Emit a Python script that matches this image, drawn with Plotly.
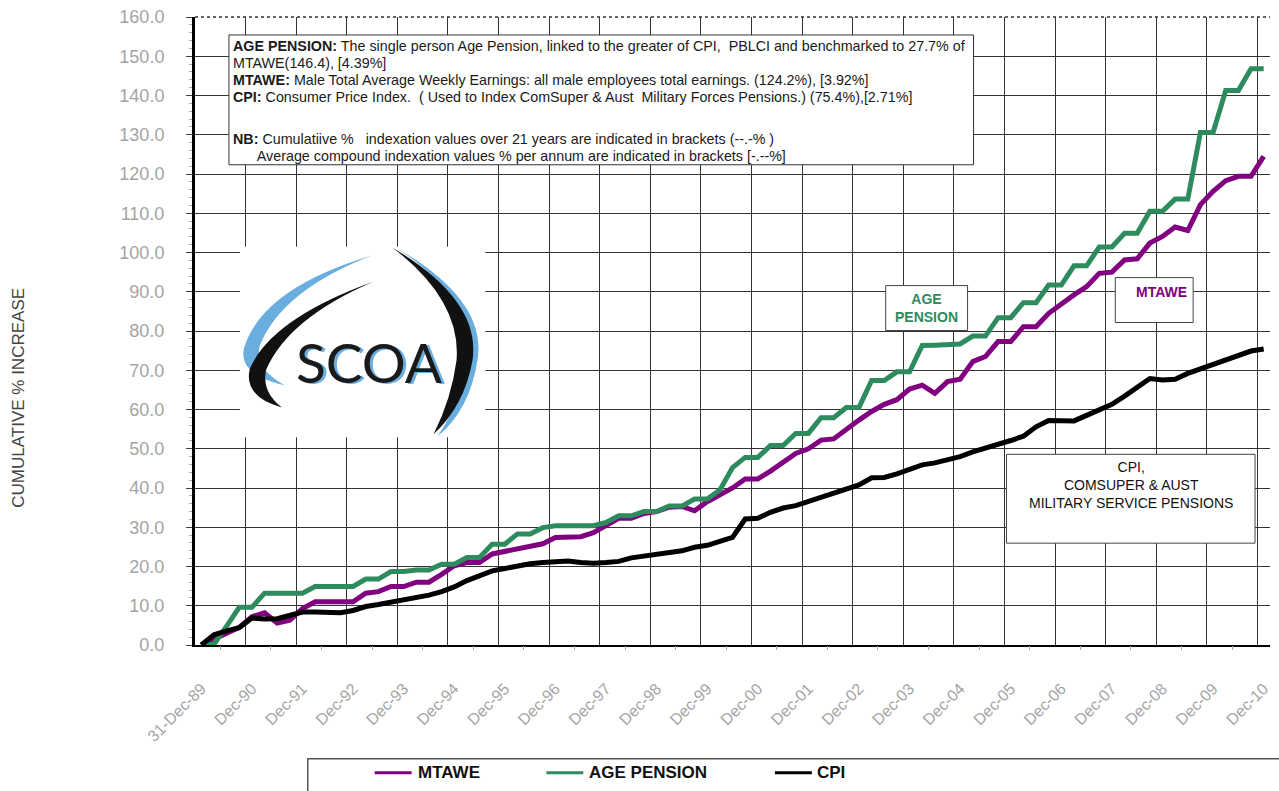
import plotly.graph_objects as go
import pandas as pd

# ---------------- data ----------------
quarters = [p.strftime("%b-%y") for p in pd.period_range("1989Q4", "2010Q4", freq="Q")]

mtawe = [0, 1.4, 2.9, 4.5, 7.2, 8.2, 5.6, 6.3, 9.3, 11.0,
         11.0, 11.0, 11.0, 13.2, 13.6, 14.9, 14.9, 16.0, 16.0, 18.0,
         20.2, 21.0, 21.0, 23.2, 23.8, 24.6, 25.0, 25.8, 27.4, 27.4,
         27.6, 28.6, 30.6, 32.3, 32.3, 33.5, 34.0, 35.1, 35.3, 34.2,
         36.5, 38.3, 40.0, 42.3, 42.3, 44.3, 46.4, 48.8, 50.0, 52.2,
         52.5, 55.0, 57.3, 59.5, 61.3, 62.5, 65.2, 66.2, 64.1, 67.1,
         67.7, 72.2, 73.5, 77.3, 77.3, 81.1, 81.1, 84.5, 86.9, 89.2,
         91.3, 94.7, 95.0, 98.1, 98.4, 102.4, 104.1, 106.5, 105.6, 112.2,
         115.6, 118.3, 119.4, 119.4, 124.5]

age_pension = [0, 0.2, 4.8, 9.6, 9.6, 13.2, 13.2, 13.2, 13.2, 14.9,
               14.9, 14.9, 14.9, 16.8, 16.8, 18.7, 18.7, 19.1, 19.1, 20.6,
               20.6, 22.3, 22.3, 25.7, 25.7, 28.3, 28.3, 29.9, 30.4, 30.4,
               30.4, 30.4, 31.2, 32.9, 32.9, 34.0, 34.0, 35.4, 35.4, 37.2,
               37.2, 39.5, 45.2, 47.8, 47.8, 50.8, 50.8, 53.9, 53.9, 57.9,
               57.9, 60.5, 60.5, 67.4, 67.4, 69.6, 69.6, 76.3, 76.4, 76.5,
               76.7, 78.7, 78.7, 83.4, 83.4, 87.2, 87.2, 91.7, 91.7, 96.6,
               96.6, 101.4, 101.4, 104.9, 104.9, 110.5, 110.5, 113.6, 113.6, 130.6,
               130.6, 141.3, 141.3, 146.8, 146.8]

cpi = [0, 2.6, 3.6, 4.4, 6.9, 6.6, 6.7, 7.5, 8.4, 8.4,
       8.2, 8.2, 8.8, 9.8, 10.3, 10.9, 11.3, 12.0, 12.7, 13.6,
       14.8, 16.4, 17.6, 18.9, 19.5, 20.2, 20.7, 21.0, 21.3, 21.4,
       21.0, 20.8, 21.0, 21.3, 22.2, 22.7, 23.0, 23.4, 24.0, 24.9,
       25.4, 26.4, 27.4, 32.1, 32.3, 33.8, 34.9, 35.5, 36.5, 37.6,
       38.7, 39.6, 40.8, 42.6, 42.7, 43.6, 44.8, 45.9, 46.4, 47.1,
       48.0, 49.2, 50.1, 51.3, 52.1, 53.2, 55.6, 57.2, 57.2, 57.1,
       58.5, 59.8, 61.3, 63.4, 65.6, 67.9, 67.5, 67.7, 69.2, 70.4,
       71.3, 72.6, 73.7, 74.9, 75.4]

tick_labels = ["31-Dec-89", "Dec-90", "Dec-91", "Dec-92", "Dec-93", "Dec-94",
               "Dec-95", "Dec-96", "Dec-97", "Dec-98", "Dec-99", "Dec-00",
               "Dec-01", "Dec-02", "Dec-03", "Dec-04", "Dec-05", "Dec-06",
               "Dec-07", "Dec-08", "Dec-09", "Dec-10"]

series_names = ["MTAWE", "AGE PENSION", "CPI"]
series_colors = ["#800080", "#2e8b5e", "#000000"]

# ---------------- geometry helpers (pixels -> paper) ----------------
W, H = 1279, 791
L, R, T, B = 195, 7, 16, 146
PW, PH = W - L - R, H - T - B


def px(x):
    return (x - L) / PW


def py(y):
    return (H - B - y) / PH


def path(points):
    out = []
    for cmd, coords in points:
        if cmd == "Z":
            out.append("Z")
            continue
        pts = []
        for i in range(0, len(coords), 2):
            pts.append(f"{px(coords[i]):.5f},{py(coords[i + 1]):.5f}")
        out.append(cmd + " " + " ".join(pts))
    return " ".join(out)


xpos = list(range(len(quarters)))
n = len(quarters)
year_bounds = [i - 0.5 for i in range(4, n, 4)]
half_year = [i + 1.5 for i in range(0, n - 1, 4)]
label_pos = list(range(0, n, 4))

fig = go.Figure()
for name, vals, col in zip(series_names, [mtawe, age_pension, cpi], series_colors):
    fig.add_trace(go.Scatter(x=xpos, y=vals, mode="lines", name=name,
                             line=dict(color=col, width=5), text=quarters,
                             hovertemplate="%{text}: %{y:.1f}%<extra>" + name + "</extra>",
                             showlegend=False))

# invisible trace to carry the half-year tick axis
fig.add_trace(go.Scatter(x=[0], y=[0], xaxis="x2", mode="markers",
                         marker=dict(opacity=0), showlegend=False, hoverinfo="skip"))

tickfont = dict(family="Liberation Sans, Arial, sans-serif", color="#a4a4a4")

fig.update_layout(
    width=W, height=H,
    margin=dict(l=L, r=R, t=T, b=B),
    paper_bgcolor="white", plot_bgcolor="white",
    xaxis=dict(range=[-0.5, n - 0.5], tickmode="array", tickvals=label_pos,
               ticktext=tick_labels, tickangle=-45, showgrid=False, ticks="",
               showline=True, linecolor="black", linewidth=2, zeroline=False,
               tickfont=dict(size=16, **tickfont), ticklabelstandoff=26,
               minor=dict(tickmode="array", tickvals=year_bounds, showgrid=True,
                          gridcolor="#333333", gridwidth=1.4, ticks="")),
    xaxis2=dict(range=[-0.5, n - 0.5], overlaying="x", anchor="y", side="bottom",
                tickmode="array", tickvals=half_year, ticks="outside", ticklen=4,
                tickcolor="#aaaaaa", showticklabels=False, showgrid=False,
                zeroline=False, showline=False),
    yaxis=dict(range=[0, 160], tickmode="linear", tick0=0, dtick=10,
               tickformat=".1f", showgrid=True, gridcolor="#333333", gridwidth=1.4,
               zeroline=False, showline=True, linecolor="black", linewidth=3,
               ticks="outside", ticklen=6, tickcolor="#444444",
               tickfont=dict(size=18, **tickfont), ticklabelstandoff=18,
               minor=dict(dtick=2, ticks="outside", ticklen=3, tickcolor="#aaaaaa",
                          showgrid=False)),
    hovermode="closest",
)

shapes = []
annos = []

# top border of plot (dotted)
shapes.append(dict(type="line", xref="paper", yref="paper", x0=0, x1=1, y0=1, y1=1,
                   line=dict(color="#333333", width=1.5, dash="dot")))

# ---------- description box ----------
shapes.append(dict(type="rect", xref="paper", yref="paper",
                   x0=px(229), x1=px(975), y0=py(164), y1=py(34),
                   fillcolor="white", line=dict(color="#333333", width=1)))
body_font = "Liberation Sans, Arial, sans-serif"
desc_lines = [
    (45, "<b>AGE PENSION:</b> The single person Age Pension, linked to the greater of CPI,  PBLCI and benchmarked to 27.7% of"),
    (62, "MTAWE(146.4), [4.39%]"),
    (79, "<b>MTAWE:</b> Male Total Average Weekly Earnings: all male employees total earnings. (124.2%), [3.92%]"),
    (96, "<b>CPI:</b> Consumer Price Index.  ( Used to Index ComSuper &amp; Aust  Military Forces Pensions.) (75.4%),[2.71%]"),
    (138, "<b>NB:</b> Cumulatiive %   indexation values over 21 years are indicated in brackets (--.-% )"),
    (155, "\u00a0\u00a0\u00a0\u00a0\u00a0\u00a0Average compound indexation values % per annum are indicated in brackets [-.--%]"),
]
for yy, txt in desc_lines:
    annos.append(dict(xref="paper", yref="paper", x=px(231), y=py(yy), xanchor="left",
                      yanchor="middle", text=txt, showarrow=False,
                      font=dict(family=body_font, size=14.3, color="#1a1a1a")))

# ---------- SCOA logo (drawn) ----------
shapes.append(dict(type="rect", xref="paper", yref="paper",
                   x0=px(240), x1=px(486), y0=py(437), y1=py(246),
                   fillcolor="white", line=dict(width=0)))
blue = "#6aaee0"
shapes.append(dict(type="path", xref="paper", yref="paper", fillcolor=blue, line=dict(width=0),
                   path=path([("M", [372, 255]), ("Q", [262, 288, 244, 348]),
                              ("Q", [238, 374, 285, 385]), ("Q", [254, 368, 260, 345]),
                              ("Q", [282, 290, 372, 255]), ("Z", [])])))
shapes.append(dict(type="path", xref="paper", yref="paper", fillcolor="#111111", line=dict(width=0),
                   path=path([("M", [374, 281]), ("Q", [272, 318, 250, 368]),
                              ("Q", [243, 396, 282, 407]), ("Q", [262, 392, 266, 370]),
                              ("Q", [288, 318, 374, 281]), ("Z", [])])))
shapes.append(dict(type="path", xref="paper", yref="paper", fillcolor=blue, line=dict(width=0),
                   path=path([("M", [398, 248]), ("Q", [488, 300, 478, 360]),
                              ("Q", [470, 410, 438, 436]), ("Q", [462, 400, 468, 360]),
                              ("Q", [476, 300, 398, 248]), ("Z", [])])))
shapes.append(dict(type="path", xref="paper", yref="paper", fillcolor="#111111", line=dict(width=0),
                   path=path([("M", [393, 247]), ("Q", [482, 300, 473, 360]),
                              ("Q", [465, 405, 434, 434]), ("Q", [452, 398, 457, 360]),
                              ("Q", [462, 300, 393, 247]), ("Z", [])])))
annos.append(dict(xref="paper", yref="paper", x=px(370), y=py(362), xanchor="center",
                  yanchor="middle", text="SCOA", showarrow=False,
                  font=dict(family="Lato, Open Sans, sans-serif", size=55, color="#1a1a1a",
                            shadow="3px 1px 0px " + blue)))

# ---------- series label boxes ----------
shapes.append(dict(type="rect", xref="paper", yref="paper",
                   x0=px(887), x1=px(969), y0=py(330), y1=py(285),
                   fillcolor="white", line=dict(color="#444444", width=1)))
annos.append(dict(xref="paper", yref="paper", x=px(928), y=py(307), xanchor="center",
                  yanchor="middle", text="AGE<br>PENSION", showarrow=False,
                  font=dict(family="Liberation Sans, Arial", size=14, color=series_colors[1],
                            weight="bold")))
shapes.append(dict(type="rect", xref="paper", yref="paper",
                   x0=px(1117), x1=px(1195), y0=py(322), y1=py(277),
                   fillcolor="white", line=dict(color="#444444", width=1)))
annos.append(dict(xref="paper", yref="paper", x=px(1163), y=py(291), xanchor="center",
                  yanchor="middle", text="MTAWE", showarrow=False,
                  font=dict(family="Liberation Sans, Arial", size=14, color=series_colors[0],
                            weight="bold")))
shapes.append(dict(type="rect", xref="paper", yref="paper",
                   x0=px(1008), x1=px(1257), y0=py(543), y1=py(454),
                   fillcolor="white", line=dict(color="#444444", width=1)))
annos.append(dict(xref="paper", yref="paper", x=px(1133), y=py(485), xanchor="center",
                  yanchor="middle", text="CPI,<br>COMSUPER &amp; AUST<br>MILITARY SERVICE PENSIONS",
                  showarrow=False,
                  font=dict(family="Liberation Sans, Arial", size=14, color="#111111")))

# ---------- y axis title ----------
annos.append(dict(xref="paper", yref="paper", x=px(18), y=py(397), xanchor="center",
                  yanchor="middle", text="CUMULATIVE % INCREASE", textangle=-90,
                  showarrow=False,
                  font=dict(family="Liberation Sans, Arial", size=17, color="#444444")))

# ---------- legend (drawn below chart) ----------
shapes.append(dict(type="rect", xref="paper", yref="paper",
                   x0=px(308), x1=px(1300), y0=py(800), y1=py(759),
                   fillcolor="white", line=dict(color="#555555", width=1.5)))
legend_x = [(375, 416), (547, 588), (776, 816)]
for (lx, tx), name, col in zip(legend_x, series_names, series_colors):
    shapes.append(dict(type="line", xref="paper", yref="paper",
                       x0=px(lx), x1=px(lx + 37), y0=py(773), y1=py(773),
                       line=dict(color=col, width=3)))
    annos.append(dict(xref="paper", yref="paper", x=px(tx), y=py(773), xanchor="left",
                      yanchor="middle", text="<b>" + name + "</b>", showarrow=False,
                      font=dict(family="Liberation Sans, Arial", size=17, color="#111111")))

fig.update_layout(shapes=shapes, annotations=annos)
fig.write_html("out.html", config={"displayModeBar": False},
               post_script="document.body.style.margin='0';document.body.style.padding='0';")
